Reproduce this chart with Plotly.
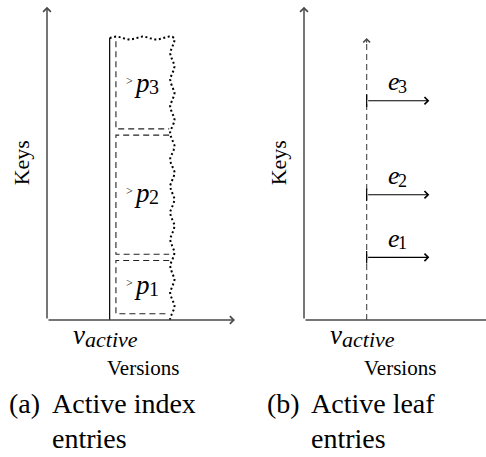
import numpy as np
import plotly.graph_objects as go

# ---------------------------------------------------------------- data
# shared version/key positions
v_active = 2.0
versions_axis_end = 6.0
keys_axis_end = 10.0

# (a) active index entries: key ranges of the child pages p1..p3
index_names = ["1", "2", "3"]
index_key_low = [0.2, 2.1, 6.1]
index_key_high = [1.9, 5.9, 8.9]
index_version_low = 2.2
index_version_high = 3.9
region_version_end = 4.0
region_key_top = 9.0

# (b) active leaf entries e1..e3
leaf_names = ["1", "2", "3"]
leaf_keys = [2.0, 4.0, 7.0]
leaf_version_end = 4.0
leaf_line_top = 9.0

# ---------------------------------------------------------------- geometry
W, H = 486, 457
PX = 31.33                      # pixels per unit on both axes
ORIGIN_A = (47, 320)
ORIGIN_B = (304, 320)
SERIF = "Liberation Serif"
AXIS_COLOR = "#4a4a4a"


def xr(ox):
    return [-ox / PX, (W - ox) / PX]


yr = [-(H - ORIGIN_A[1]) / PX, ORIGIN_A[1] / PX]

fig = go.Figure()

# ---------------------------------------------------------------- panel (a)
# solid line at the active version
fig.add_trace(go.Scatter(x=[v_active, v_active], y=[0, region_key_top],
                         mode="lines", line=dict(color="black", width=1.2),
                         xaxis="x", yaxis="y", hoverinfo="skip"))

# dashed index-entry boxes (open on the right, the top one also on top)
for i, (lo, hi) in enumerate(zip(index_key_low, index_key_high)):
    if i == len(index_key_low) - 1:
        xs = [index_version_low, index_version_low, index_version_high]
        ys = [hi, lo, lo]
    else:
        xs = [index_version_high, index_version_low, index_version_low, index_version_high]
        ys = [hi, hi, lo, lo]
    fig.add_trace(go.Scatter(x=xs, y=ys, mode="lines",
                             line=dict(color="#222", width=1.1, dash="6px,4px"),
                             xaxis="x", yaxis="y", hoverinfo="skip"))

# snake decoration along the open edge of the active region
amp, period = 0.05, 0.85
s_top = np.linspace(0, region_version_end - v_active, 60)
top_x = v_active + s_top
top_y = region_key_top + amp * np.sin(2 * np.pi * s_top / period)
s_side = np.linspace(0, region_key_top, 240)
side_x = region_version_end + amp * 1.4 * np.sin(2 * np.pi * s_side / period + 1.2)
side_y = region_key_top - s_side
fig.add_trace(go.Scatter(x=np.concatenate([top_x, side_x]),
                         y=np.concatenate([top_y, side_y]),
                         mode="lines",
                         line=dict(color="black", width=2, dash="2px,2.6px"),
                         xaxis="x", yaxis="y", hoverinfo="skip"))

# ---------------------------------------------------------------- panel (b)
fig.add_trace(go.Scatter(x=[v_active, v_active], y=[0, leaf_line_top - 0.15],
                         mode="lines",
                         line=dict(color="#555", width=1.2, dash="6px,4px"),
                         xaxis="x2", yaxis="y2", hoverinfo="skip"))

bar_x, bar_y = [], []
for k in leaf_keys:
    bar_x += [v_active, v_active, None]
    bar_y += [k - 0.2, k + 0.2, None]
fig.add_trace(go.Scatter(x=bar_x, y=bar_y, mode="lines",
                         line=dict(color="black", width=1.2),
                         xaxis="x2", yaxis="y2", hoverinfo="skip"))

annotations = []


def arrow(xref, yref, x0, y0, x1, y1, color="black", width=1.1, size=1.3):
    annotations.append(dict(
        x=x1, y=y1, ax=x0, ay=y0, xref=xref, yref=yref, axref=xref, ayref=yref,
        text="", showarrow=True, arrowhead=4, arrowsize=size,
        arrowwidth=width, arrowcolor=color, standoff=0, startstandoff=0))


# axes of both panels
for xref, yref in (("x", "y"), ("x2", "y2")):
    arrow(xref, yref, 0, 0, versions_axis_end, 0, AXIS_COLOR, 1.5, 1.0)
    arrow(xref, yref, 0, 0, 0, keys_axis_end, AXIS_COLOR, 1.5, 1.0)

# arrowhead on the dashed active-version line
arrow("x2", "y2", v_active, leaf_line_top - 0.2, v_active, leaf_line_top, "#444", 1.1, 1.2)

# leaf entry arrows
for k in leaf_keys:
    arrow("x2", "y2", v_active, k, leaf_version_end, k, "black", 1.1, 1.3)


def text(xref, yref, x, y, t, size, xshift=0, yshift=0, **kw):
    d = dict(x=x, y=y, xref=xref, yref=yref, text=t, showarrow=False,
             font=dict(family=SERIF, size=size, color="black"),
             xshift=xshift, yshift=yshift)
    d.update(kw)
    annotations.append(d)


# ">p_i" labels centred in their boxes
cx = (index_version_low + index_version_high) / 2
for name, lo, hi in zip(index_names, index_key_low, index_key_high):
    cy = (lo + hi) / 2
    text("x", "y", cx, cy, ">", 12, xshift=-13, yshift=4)
    text("x", "y", cx, cy, "<i>p</i>", 27, xshift=-1, yshift=2)
    text("x", "y", cx, cy, name, 20, xshift=11, yshift=-2)

# e_i labels above the leaf arrows
ex = (v_active + leaf_version_end) / 2
for name, k in zip(leaf_names, leaf_keys):
    text("x2", "y2", ex, k, "<i>e</i>", 26, xshift=-4, yshift=19)
    text("x2", "y2", ex, k, name, 18, xshift=5, yshift=14)

# axis labels and v_active marks
for xref, yref in (("x", "y"), ("x2", "y2")):
    text(xref, yref, v_active, 0, "<i>v</i>", 27, xshift=-31, yshift=-15)
    text(xref, yref, v_active, 0, "<i>active</i>", 22, xshift=-27, yshift=-19,
         xanchor="left")
    text(xref, yref, 3.05, 0, "Versions", 21, yshift=-48)
    text(xref, yref, 0, 5.0, "Keys", 22, xshift=-26, textangle=-90)

# sub-captions


def cap(px, py, t):
    annotations.append(dict(x=px / W, y=1 - py / H, xref="paper", yref="paper",
                            text=t, showarrow=False,
                            xanchor="left", yanchor="middle",
                            font=dict(family=SERIF, size=28, color="black")))


cap(7, 403, "(a)")
cap(50, 403, "Active index")
cap(50, 438, "entries")
cap(265, 403, "(b)")
cap(309, 403, "Active leaf")
cap(309, 438, "entries")

hidden = dict(visible=False, fixedrange=True, domain=[0, 1])
fig.update_layout(
    width=W, height=H, margin=dict(l=0, r=0, t=0, b=0),
    paper_bgcolor="white", plot_bgcolor="white", showlegend=False,
    xaxis=dict(hidden, range=xr(ORIGIN_A[0])),
    yaxis=dict(hidden, range=yr),
    xaxis2=dict(hidden, range=xr(ORIGIN_B[0]), overlaying="x", anchor="y2"),
    yaxis2=dict(hidden, range=yr, overlaying="y", anchor="x2"),
    annotations=annotations,
)

fig.write_html("out.html")
